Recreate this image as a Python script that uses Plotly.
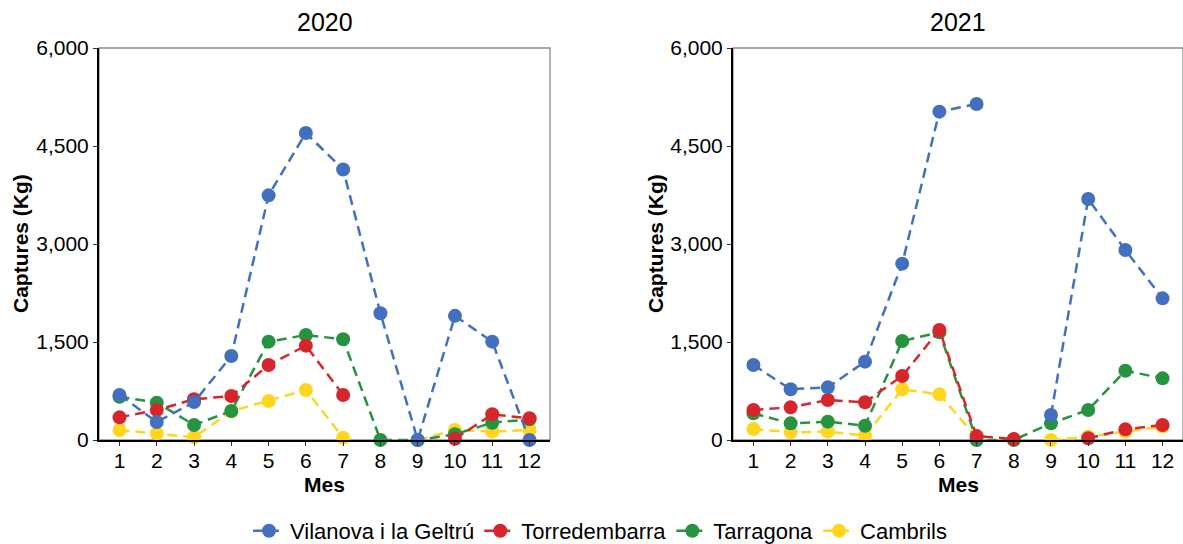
import plotly.graph_objects as go

months = list(range(1, 13))
years = ["2020", "2021"]
series_names = ["Vilanova i la Geltrú", "Torredembarra", "Tarragona", "Cambrils"]
colors = ["#4270BF", "#D7262B", "#25933F", "#FFD51F"]

vilanova_2020 = [690, 275, 580, 1285, 3745, 4700, 4140, 1940, 0, 1900, 1505, 0]
torredembarra_2020 = [347, 460, 623, 673, 1148, 1444, 689, None, None, 20, 393, 332]
tarragona_2020 = [663, 571, 230, 444, 1505, 1607, 1541, 0, 0, 87, 265, 316]
cambrils_2020 = [153, 102, 41, 440, 597, 765, 36, None, 0, 153, 128, 153]

vilanova_2021 = [1148, 776, 806, 1199, 2699, 5026, 5143, None, 383, 3689, 2908, 2168]
torredembarra_2021 = [460, 500, 612, 577, 980, 1684, 60, 15, None, 26, 163, 230]
tarragona_2021 = [408, 255, 281, 219, 1515, 1650, 0, 0, 255, 460, 1061, 944]
cambrils_2021 = [168, 117, 128, 66, 776, 699, 40, None, 0, 51, 128, 204]

data = {
    "2020": [vilanova_2020, torredembarra_2020, tarragona_2020, cambrils_2020],
    "2021": [vilanova_2021, torredembarra_2021, tarragona_2021, cambrils_2021],
}
y_ticks = [0, 1500, 3000, 4500, 6000]
x_title = "Mes"
y_title = "Captures (Kg)"

W, H = 1183, 544
ml, mr, mt, mb = 99, 0, 48, 104
pw = W - ml - mr
ph = H - mt - mb
dom1 = [0, 451 / pw]
dom2 = [634 / pw, 1.0]

fig = go.Figure()
FONT = "Liberation Sans, Arial, sans-serif"

for p, yr in enumerate(years):
    xa = "x" if p == 0 else "x2"
    ya = "y" if p == 0 else "y2"
    # draw order: Cambrils at bottom, Vilanova on top
    for i in reversed(range(4)):
        fig.add_trace(go.Scatter(
            x=months, y=data[yr][i], name=series_names[i],
            mode="lines+markers", xaxis=xa, yaxis=ya,
            line=dict(color=colors[i], width=2.5, dash="10px,6px"),
            marker=dict(color=colors[i], size=14),
            connectgaps=False, cliponaxis=False,
            showlegend=(p == 0), legendgroup=series_names[i],
        ))

axis_common_x = dict(
    range=[0.45, 12.55], tickmode="array", tickvals=months,
    ticktext=[str(m) for m in months], showgrid=False, zeroline=False,
    showline=True, linecolor="black", linewidth=2,
    ticks="outside", ticklen=4, tickcolor="#333333", tickwidth=1,
    tickfont=dict(size=21, color="black", family=FONT),
    ticklabelstandoff=-3,
    automargin=False,
)
axis_common_y = dict(
    range=[0, 6000], tickmode="array", tickvals=y_ticks, tickformat=",d",
    showgrid=False, zeroline=False,
    showline=True, linecolor="black", linewidth=2,
    ticks="outside", ticklen=4, tickcolor="#333333", tickwidth=1,
    tickfont=dict(size=21, color="black", family=FONT),
    domain=[0, 1], automargin=False,
)

fig.update_layout(
    width=W, height=H,
    margin=dict(l=ml, r=mr, t=mt, b=mb, autoexpand=False),
    paper_bgcolor="white", plot_bgcolor="white",
    font=dict(family=FONT, color="black"),
    xaxis=dict(axis_common_x, domain=dom1, anchor="y"),
    yaxis=dict(axis_common_y, anchor="x"),
    xaxis2=dict(axis_common_x, domain=dom2, anchor="y2"),
    yaxis2=dict(axis_common_y, anchor="x2"),
    legend=dict(
        orientation="h", xref="container", yref="container",
        x=600 / W, xanchor="center", y=(H - 531) / H, yanchor="middle",
        traceorder="reversed", font=dict(size=22, color="black", family=FONT),
        itemwidth=32, tracegroupgap=0,
    ),
    showlegend=True,
)

for p, (yr, dom) in enumerate(zip(years, [dom1, dom2])):
    fig.add_annotation(
        text=yr, xref="paper", yref="paper",
        x=(dom[0] + dom[1]) / 2, y=1 + 26 / ph, xanchor="center", yanchor="middle",
        showarrow=False, font=dict(size=25, color="black", family=FONT),
    )
    fig.add_annotation(
        text=f"<b>{x_title}</b>", xref="paper", yref="paper",
        x=(dom[0] + dom[1]) / 2, y=-(484 - 440) / ph, xanchor="center", yanchor="middle",
        showarrow=False, font=dict(size=21, color="black", family=FONT),
    )
    ytx = 20 if p == 0 else 655
    fig.add_annotation(
        text=f"<b>{y_title}</b>", xref="paper", yref="paper",
        x=(ytx - ml) / pw, y=0.5, xanchor="center", yanchor="middle", textangle=-90,
        showarrow=False, font=dict(size=21, color="black", family=FONT),
    )
    xr = "x domain" if p == 0 else "x2 domain"
    yr_ = "y domain" if p == 0 else "y2 domain"
    fig.add_shape(type="rect", xref=xr, yref=yr_, x0=0, x1=1, y0=0, y1=1,
                  line=dict(color="#8c8c8c", width=1.3), layer="below")

fig.write_html(
    "out.html",
    config={"displayModeBar": False},
    post_script="document.body.style.margin='0';document.body.style.overflow='hidden';",
)
